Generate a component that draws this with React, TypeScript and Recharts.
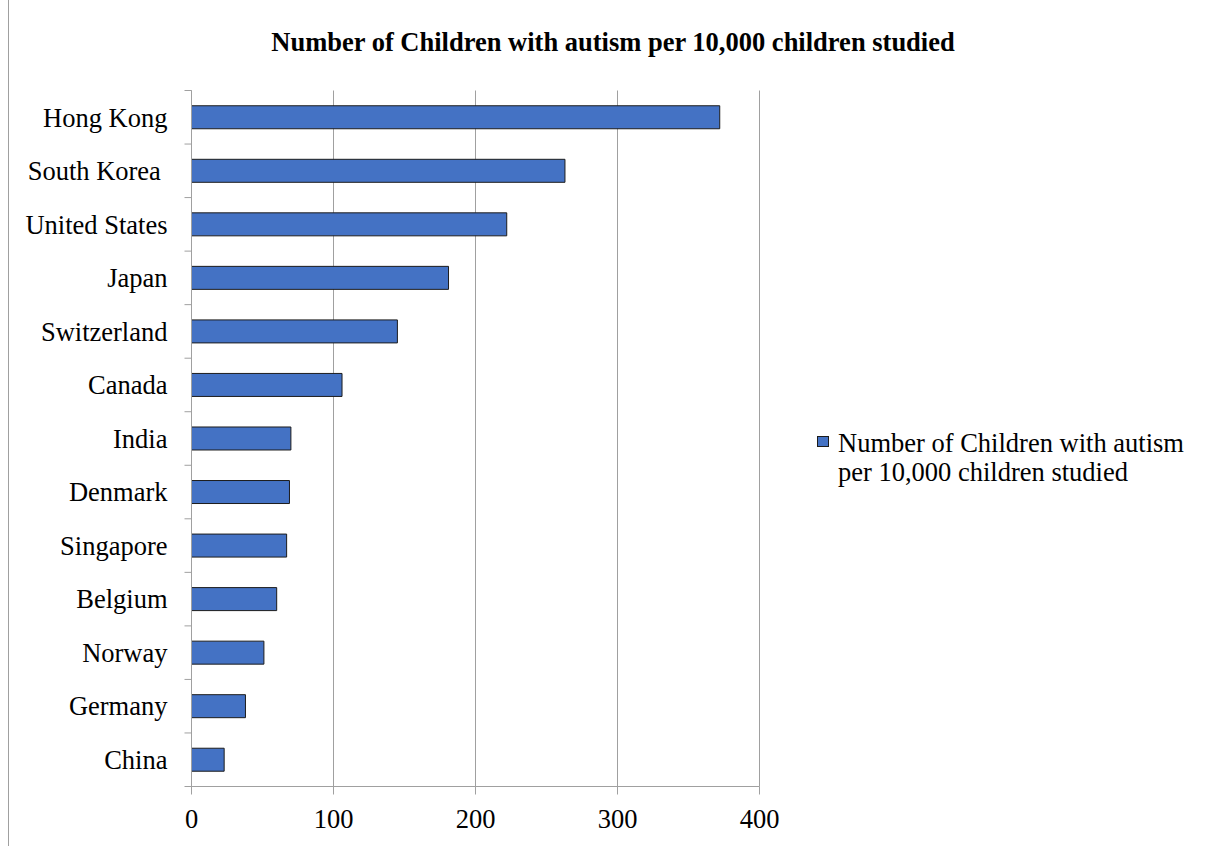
import React from 'react';
import { BarChart, Bar, XAxis, YAxis, CartesianGrid } from 'recharts';

const categories = ['Hong Kong', 'South Korea ', 'United States', 'Japan', 'Switzerland', 'Canada', 'India', 'Denmark', 'Singapore', 'Belgium', 'Norway', 'Germany', 'China'];
const values = [372, 263, 222, 181, 145, 106, 70, 69, 67, 60, 51, 38, 23];
const xTicks = [0, 100, 200, 300, 400];
const seriesName = 'Number of Children with autism per 10,000 children studied';
const legendLines = ['Number of Children with autism', 'per 10,000 children studied'];

const data = categories.map((name, i) => ({ name, value: values[i] }));

const FONT = '"Liberation Serif", "Times New Roman", serif';
const FS = 26.5;
const GREY = '#a0a0a0';
const CHART_W = 1190;
const CHART_H = 846;
const M_TOP = 90.5;
const X_AXIS_H = 59.5;
const Y_AXIS_W = 182;
const M_LEFT = 0.5;
const M_RIGHT = 439.5;
const PLOT_H = CHART_H - M_TOP - X_AXIS_H;
const TICK_SIZE = 7;
const TICK_MARGIN = 17;

const YTick = (props: any) => {
  const { x, y, payload } = props;
  const band = PLOT_H / categories.length;
  const idx = categories.indexOf(payload.value);
  const axisX = x + TICK_SIZE + TICK_MARGIN;
  return (
    <g>
      <line x1={axisX - TICK_SIZE} x2={axisX} y1={y - band / 2} y2={y - band / 2} stroke={GREY} strokeWidth={1} />
      {idx === categories.length - 1 && (
        <line x1={axisX - TICK_SIZE} x2={axisX} y1={y + band / 2} y2={y + band / 2} stroke={GREY} strokeWidth={1} />
      )}
      <text x={x} y={y} dy="0.35em" textAnchor="end" fill="#000" fontSize={FS} fontFamily={FONT} style={{ whiteSpace: 'pre' }}>
        {payload.value}
      </text>
    </g>
  );
};

const LegendBox = () => (
  <div
    style={{
      position: 'absolute',
      left: 808,
      top: 429,
      display: 'flex',
      alignItems: 'flex-start',
      fontFamily: FONT,
      fontSize: FS,
      lineHeight: '29px',
      color: '#000',
    }}
  >
    <div style={{ width: 12, height: 11, marginTop: 7, background: '#4472C4', border: '1px solid #1c1c1c', boxSizing: 'border-box', flex: 'none' }} />
    <div style={{ marginLeft: 9, whiteSpace: 'nowrap' }}>
      {legendLines.map((l) => (
        <div key={l}>{l}</div>
      ))}
    </div>
  </div>
);

export default function App() {
  return (
    <div style={{ position: 'absolute', top: 0, left: 8, width: CHART_W, height: CHART_H, borderLeft: `1px solid ${GREY}`, background: '#fff' }}>
      <div
        style={{
          position: 'absolute',
          top: 27,
          left: 0,
          width: CHART_W,
          paddingLeft: 18,
          boxSizing: 'border-box',
          textAlign: 'center',
          fontFamily: FONT,
          fontWeight: 'bold',
          fontSize: FS,
          lineHeight: '30px',
          color: '#000',
          zIndex: 2,
        }}
      >
        {seriesName}
      </div>
      <BarChart
        width={CHART_W}
        height={CHART_H}
        data={data}
        layout="vertical"
        margin={{ top: M_TOP, right: M_RIGHT, bottom: 0, left: M_LEFT }}
        barCategoryGap="28.5%"
      >
        <CartesianGrid horizontal={false} vertical={true} stroke={GREY} strokeWidth={1} />
        <XAxis
          type="number"
          domain={[0, 400]}
          ticks={xTicks}
          interval={0}
          height={X_AXIS_H}
          axisLine={{ stroke: GREY }}
          tickLine={{ stroke: GREY }}
          tickSize={8}
          tickMargin={15}
          tick={{ fill: '#000', fontSize: FS, fontFamily: FONT }}
        />
        <YAxis
          type="category"
          dataKey="name"
          width={Y_AXIS_W}
          interval={0}
          axisLine={{ stroke: GREY }}
          tickLine={false}
          tickSize={TICK_SIZE}
          tickMargin={TICK_MARGIN}
          tick={<YTick />}
        />
        <Bar dataKey="value" name={seriesName} fill="#4472C4" stroke="#1c1c1c" strokeWidth={1} isAnimationActive={false} />
      </BarChart>
      <LegendBox />
    </div>
  );
}
